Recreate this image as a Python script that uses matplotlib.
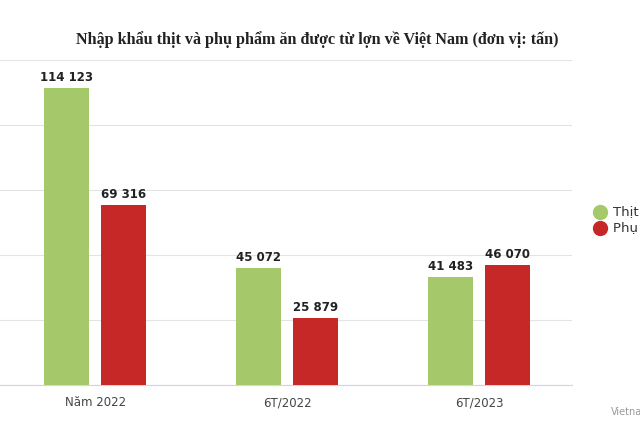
import matplotlib
matplotlib.use("Agg")
import matplotlib.pyplot as plt
from matplotlib.lines import Line2D
import numpy as np

categories = ["Năm 2022", "6T/2022", "6T/2023"]
thit = [114123, 45072, 41483]
phu = [69316, 25879, 46070]
series_names = ["Thịt", "Phụ phẩm"]
colors = ["#a5c96a", "#c62828"]

def fmt(v):
    return f"{v:,}".replace(",", " ")

fig = plt.figure(figsize=(6.4, 4.44), dpi=100)
ax = fig.add_axes([0.0, 0.133, 0.894, 0.732])
x = np.arange(len(categories))
w = 0.234
off = 0.148
for vals, c, d in [(thit, colors[0], -off), (phu, colors[1], off)]:
    bars = ax.bar(x + d, vals, width=w, color=c, zorder=3)
    for b, v in zip(bars, vals):
        ax.text(b.get_x() + b.get_width() / 2, v + 1500, fmt(v), ha="center", va="bottom",
                fontsize=8.5, fontweight="bold", color="#222222")
ax.set_xlim(-0.495, 2.484)
ax.set_ylim(0, 125000)
ax.set_yticks(np.arange(0, 125001, 25000))
ax.set_yticklabels([])
ax.tick_params(axis="y", length=0)
ax.tick_params(axis="x", length=0, labelsize=8.5, labelcolor="#444444", pad=8)
ax.set_xticks(x)
ax.set_xticklabels(categories)
ax.grid(axis="y", color="#e3e3e3", linewidth=0.8, zorder=0)
for s in ["top", "right", "left"]:
    ax.spines[s].set_visible(False)
ax.spines["bottom"].set_color("#ccd6eb")

fig.text(0.495, 0.91, "Nhập khẩu thịt và phụ phẩm ăn được từ lợn về Việt Nam (đơn vị: tấn)",
         ha="center", va="center", fontsize=11.6, fontweight="bold", family="Liberation Serif", color="#222222")

for i, (n, c) in enumerate(zip(series_names, colors)):
    y = 0.523 - i * 0.037
    fig.add_artist(Line2D([0.938], [y], marker="o", markersize=10, color=c, linestyle="none",
                          transform=fig.transFigure))
    fig.text(0.958, y, n, ha="left", va="center", fontsize=9.5, color="#333333")
fig.text(0.955, 0.072, "Vietnamnet", ha="left", va="center", fontsize=7, color="#999999")

fig.savefig("out.png", dpi=100)
